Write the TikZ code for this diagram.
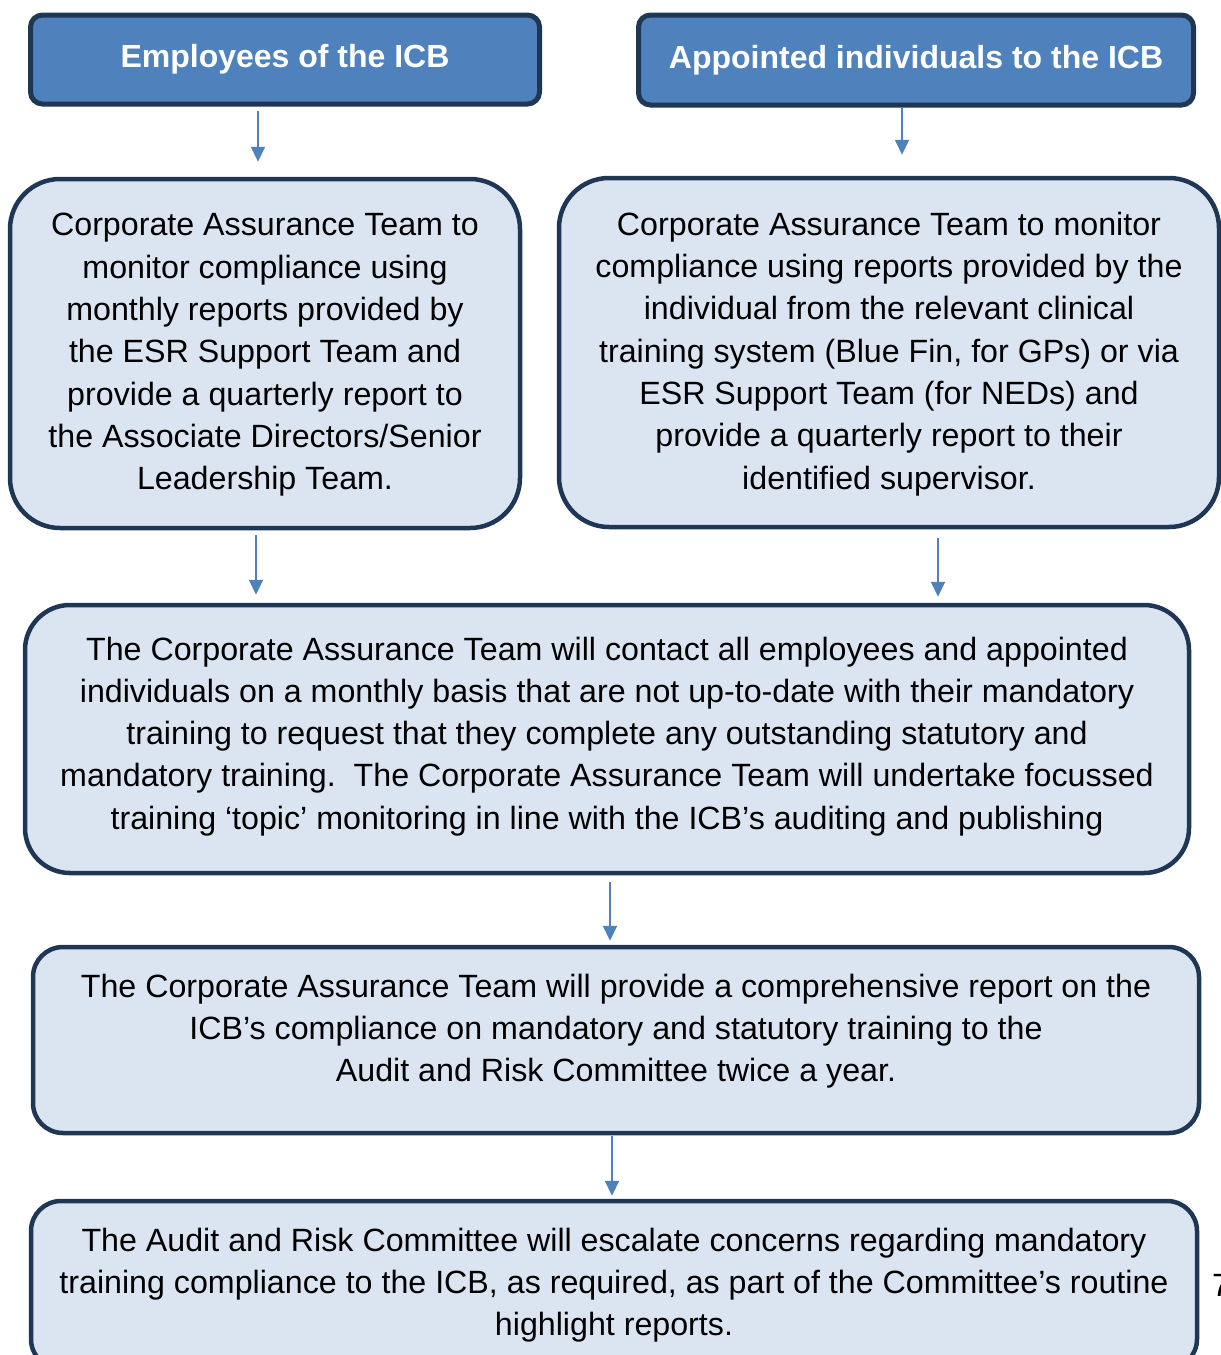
\documentclass[tikz,border=0pt]{standalone}
\usepackage{fontspec}
\setmainfont{Liberation Sans}
\usetikzlibrary{arrows.meta}
\definecolor{boxnavy}{HTML}{1F3654}
\definecolor{headblue}{HTML}{4F81BD}
\definecolor{paleblue}{HTML}{DBE5F1}
\definecolor{flowblue}{HTML}{4F81BD}
\newcommand{\bodyfont}{\fontsize{32.2}{42.3}\selectfont}
\begin{document}
\begin{tikzpicture}[x=1pt,y=1pt,
    headbox/.style={draw=boxnavy, line width=5pt, fill=headblue, rounded corners=12pt,
        text=white, font=\fontsize{32}{36}\selectfont\bfseries, inner sep=0pt},
    stepbox/.style={draw=boxnavy, line width=4.5pt, fill=paleblue, font=\bodyfont,
        align=center, inner sep=0pt},
    flow/.style={draw=flowblue, line width=2pt, -{Triangle[width=14pt,length=15pt]}}]
    \useasboundingbox (0,0) rectangle (1221,-1355);

    % Header Nodes
    \node [headbox, minimum width=509, minimum height=89] (employees) at (285,-59.5) {Employees of the ICB};
    \node [headbox, minimum width=555, minimum height=90] (appointed) at (916,-60) {Appointed individuals to the ICB};

    % Monitoring Nodes
    \node [stepbox, rounded corners=50pt, minimum width=510, minimum height=349, text depth=4pt] (monitorleft) at (265,-353.5)
        {Corporate Assurance Team to\\ monitor compliance using\\ monthly reports provided by\\ the ESR Support Team and\\ provide a quarterly report to\\ the Associate Directors/Senior\\ Leadership Team.};
    \node [stepbox, rounded corners=50pt, minimum width=660, minimum height=349, text depth=4pt] (monitorright) at (889,-352.5)
        {Corporate Assurance Team to monitor\\ compliance using reports provided by the\\ individual from the relevant clinical\\ training system (Blue Fin, for GPs) or via\\ ESR Support Team (for NEDs) and\\ provide a quarterly report to their\\ identified supervisor.};

    % Contact Node
    \node [stepbox, rounded corners=45pt, minimum width=1164, minimum height=268, text depth=12pt] (contact) at (607,-739)
        {The Corporate Assurance Team will contact all employees and appointed\\ individuals on a monthly basis that are not up-to-date with their mandatory\\ training to request that they complete any outstanding statutory and\\ mandatory training.\ \ The Corporate Assurance Team will undertake focussed\\ training ‘topic’ monitoring in line with the ICB’s auditing and publishing};

    % Report Node
    \node [stepbox, rounded corners=30pt, minimum width=1166, minimum height=186, text depth=24pt] (report) at (616,-1040)
        {The Corporate Assurance Team will provide a comprehensive report on the\\ ICB’s compliance on mandatory and statutory training to the\\ Audit and Risk Committee twice a year.};

    % Escalate Node
    \node [stepbox, rounded corners=30pt, minimum width=1166, minimum height=168] (escalate) at (614,-1285)
        {The Audit and Risk Committee will escalate concerns regarding mandatory\\ training compliance to the ICB, as required, as part of the Committee’s routine\\ highlight reports.};

    % Page Number
    \node [font=\bodyfont, inner sep=0pt] (pagenum) at (1221,-1285) {7};

    % Arrows
    \draw [flow] ([xshift=-27pt,yshift=-4pt]employees.south) -- ([xshift=-7pt,yshift=15pt]monitorleft.north);
    \draw [flow] ([xshift=-14pt]appointed.south) -- ([xshift=13pt,yshift=21pt]monitorright.north);
    \draw [flow] ([xshift=-9pt,yshift=-5pt]monitorleft.south) -- ([xshift=-351pt,yshift=8pt]contact.north);
    \draw [flow] ([xshift=49pt,yshift=-9pt]monitorright.south) -- ([xshift=331pt,yshift=6pt]contact.north);
    \draw [flow] ([xshift=3pt,yshift=-7pt]contact.south) -- ([xshift=-6pt,yshift=4pt]report.north);
    \draw [flow] ([xshift=-4pt,yshift=-1pt]report.south) -- ([xshift=-2pt,yshift=3pt]escalate.north);
\end{tikzpicture}
\end{document}
